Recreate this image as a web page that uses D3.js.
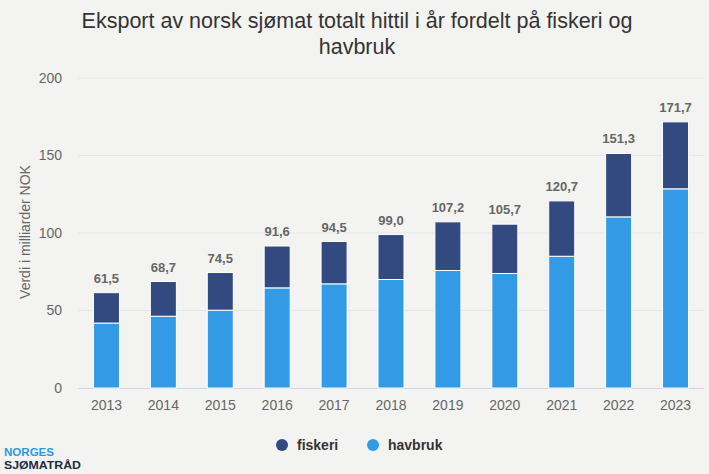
<!DOCTYPE html>
<html><head><meta charset="utf-8">
<script src="https://cdn.jsdelivr.net/npm/d3@7"></script>
<style>html,body{margin:0;padding:0;background:#f3f4f2;}svg{display:block;font-family:"Liberation Sans",Arial,sans-serif;}</style>
</head><body>
<svg id="c" width="709" height="474"></svg>
<script>
const years = ["2013","2014","2015","2016","2017","2018","2019","2020","2021","2022","2023"];
const havbruk = [41.9, 46.3, 50.2, 64.6, 67.2, 70.0, 75.8, 73.9, 85.0, 110.4, 128.5];
const fiskeri = [19.6, 22.4, 24.3, 27.0, 27.3, 29.0, 31.4, 31.8, 35.7, 40.9, 43.2];
const yTicks = [0, 50, 100, 150, 200];
const seriesNames = ["fiskeri", "havbruk"];
const colors = {fiskeri: "#324a80", havbruk: "#339be6"};

const svg = d3.select("#c");
svg.append("rect").attr("width",709).attr("height",474).attr("fill","#f3f4f2");

const x = d3.scaleBand().domain(years).range([78, 704]).paddingInner(0.543).paddingOuter(0.2715);
const y = d3.scaleLinear().domain([0, 200]).range([388, 78]);

// gridlines
svg.append("g").selectAll("line").data(yTicks.filter(t=>t>0)).join("line")
  .attr("x1",78).attr("x2",704).attr("y1",d=>y(d)).attr("y2",d=>y(d))
  .attr("stroke","#e6e6e6").attr("stroke-width",1);

// y axis
const ya = svg.append("g").attr("transform","translate(78,0)")
  .call(d3.axisLeft(y).tickValues(yTicks).tickSize(0).tickPadding(16));
ya.select(".domain").remove();
ya.selectAll("text").attr("font-size",14).attr("fill","#666").attr("font-family","Liberation Sans, Arial, sans-serif");

// x axis
const xa = svg.append("g").attr("transform","translate(0,388)")
  .call(d3.axisBottom(x).tickSize(0).tickPadding(12));
xa.select(".domain").attr("stroke","#ccd6eb");
xa.selectAll("text").attr("font-size",14).attr("fill","#666").attr("font-family","Liberation Sans, Arial, sans-serif");

// stacked data
const rows = years.map((yr,i)=>({year:yr, havbruk:havbruk[i], fiskeri:fiskeri[i]}));
const stack = d3.stack().keys(["havbruk","fiskeri"])(rows);
svg.append("g").selectAll("g").data(stack).join("g")
  .attr("fill", d=>colors[d.key])
  .selectAll("rect").data(d=>d).join("rect")
  .attr("x", d=>x(d.data.year)).attr("width", x.bandwidth())
  .attr("y", d=>y(d[1])).attr("height", d=>y(d[0])-y(d[1]))
  .attr("stroke","#ffffff").attr("stroke-width",1);

// totals
svg.append("g").selectAll("text").data(rows).join("text")
  .attr("x", d=>x(d.year)+x.bandwidth()/2)
  .attr("y", d=>y(d.havbruk+d.fiskeri)-10)
  .attr("text-anchor","middle").attr("font-size",13).attr("font-weight","bold")
  .attr("fill","#666")
  .text(d=>(d.havbruk+d.fiskeri).toFixed(1).replace(".",","));

// y title
svg.append("text").attr("transform","translate(30,232) rotate(-90)")
  .attr("text-anchor","middle").attr("font-size",14).attr("fill","#666")
  .text("Verdi i milliarder NOK");

// title
const title = svg.append("text").attr("text-anchor","middle").attr("font-size",21.5).attr("fill","#333");
title.append("tspan").attr("x",357).attr("y",28).text("Eksport av norsk sjømat totalt hittil i år fordelt på fiskeri og");
title.append("tspan").attr("x",357).attr("y",54).text("havbruk");

// legend
const lg = svg.append("g");
const lx = [282, 373];
seriesNames.forEach((s,i)=>{
  lg.append("circle").attr("cx",lx[i]).attr("cy",445).attr("r",6).attr("fill",colors[s]);
  lg.append("text").attr("x",lx[i]+15).attr("y",450).attr("font-size",14).attr("font-weight","bold")
    .attr("fill","#333").text(s);
});

// logo
svg.append("text").attr("x",4).attr("y",455.5).attr("font-size",10.5).attr("font-weight","bold").attr("fill","#2a9be0")
  .attr("textLength",50).attr("lengthAdjust","spacingAndGlyphs").text("NORGES");
svg.append("text").attr("x",4).attr("y",469).attr("font-size",10.5).attr("font-weight","bold").attr("fill","#1d2b44")
  .attr("textLength",77).attr("lengthAdjust","spacingAndGlyphs").text("SJØMATRÅD");
</script>
</body></html>
